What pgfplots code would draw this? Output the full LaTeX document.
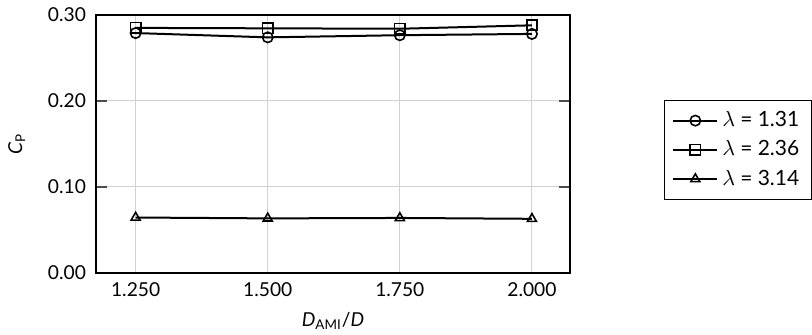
\documentclass[border=0pt]{standalone}
\usepackage{fontspec}
\setmainfont{Lato}
\usepackage{pgfplots}
\pgfplotsset{compat=1.18}
\begin{document}
\begin{tikzpicture}
\begin{axis}[
  scale only axis,
  width=237pt, height=129pt,
  xmin=1.175, xmax=2.072,
  ymin=0, ymax=0.30,
  xtick={1.25,1.5,1.75,2.0},
  ytick={0,0.1,0.2,0.3},
  /pgf/number format/assume math mode=true,
  xticklabel style={yshift=-1.3pt, /pgf/number format/.cd,fixed,fixed zerofill,precision=3},
  yticklabel style={xshift=-1.5pt, /pgf/number format/.cd,fixed,fixed zerofill,precision=2},
  tick label style={font=\fontsize{9.6}{11}\selectfont},
  label style={font=\fontsize{9.6}{11}\selectfont},
  grid=major,
  grid style={gray!35, line width=0.5pt},
  major tick length=5.5pt,
  tick align=inside,
  ytick pos=both,
  y tick style={black!70, line width=0.6pt},
  x tick style={draw=none},
  axis line style={line width=0.6pt},
  xlabel={\textit{D}\textsubscript{AMI}/\textit{D}},
  ylabel={\textit{C}\textsubscript{P}},
  xlabel style={at={(axis description cs:0.5,-0.2093)}, anchor=base},
  ylabel style={at={(axis description cs:-0.1561,0.5)}, anchor=base},
  legend style={at={(axis description cs:1.198,0.6705)}, anchor=north west,
     font=\fontsize{10.5}{12}\selectfont, draw=black, line width=0.5pt,
     row sep=1.5pt, inner xsep=4pt, inner ysep=3.5pt},
  legend cell align=left,
  legend image code/.code={\draw[#1] (0pt,0pt) -- (22pt,0pt); \draw[#1, mark repeat=2, mark phase=2] plot coordinates {(0pt,0pt) (11pt,0pt) (22pt,0pt)};},
]
\addplot[black, line width=1pt, mark=o, mark size=2.6pt, mark options={solid, line width=0.8pt}]
  coordinates {(1.25,0.279) (1.5,0.274) (1.75,0.2765) (2.0,0.278)};
\addlegendentry{$\lambda$\hspace{0.25em}=\hspace{0.25em}1.31}
\addplot[black, line width=1pt, mark=square, mark size=2.6pt, mark options={solid, line width=0.8pt}]
  coordinates {(1.25,0.285) (1.5,0.2845) (1.75,0.284) (2.0,0.288)};
\addlegendentry{$\lambda$\hspace{0.25em}=\hspace{0.25em}2.36}
\addplot[black, line width=1pt, mark=triangle, mark size=2.6pt, mark options={solid, line width=0.8pt}]
  coordinates {(1.25,0.0645) (1.5,0.0635) (1.75,0.064) (2.0,0.063)};
\addlegendentry{$\lambda$\hspace{0.25em}=\hspace{0.25em}3.14}
\coordinate (sw) at (rel axis cs:0,0);
\coordinate (ne) at (rel axis cs:1,1);
\end{axis}
\pgfresetboundingbox
\path[use as bounding box] ([shift={(-48pt,-31pt)}]sw) rectangle ([shift={(121pt,7.5pt)}]ne);
\end{tikzpicture}
\end{document}
